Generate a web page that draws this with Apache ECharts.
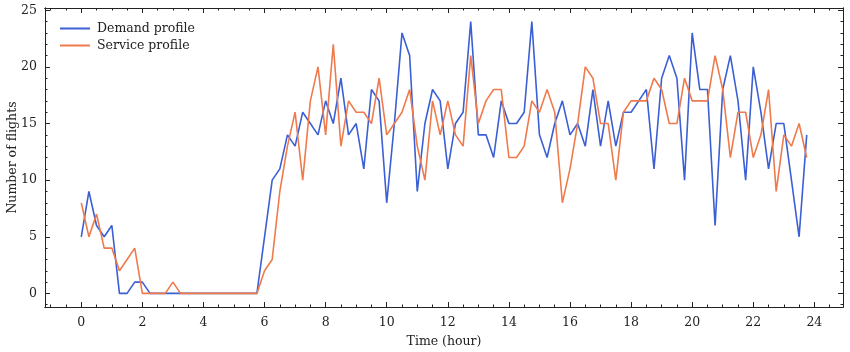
<!DOCTYPE html>
<html>
<head>
<meta charset="utf-8">
<script src="https://cdn.jsdelivr.net/npm/echarts@6/dist/echarts.min.js"></script>
<style>
  html, body { margin: 0; padding: 0; background: #fff; }
  #chart { width: 850px; height: 352px; }
</style>
</head>
<body>
<div id="chart"></div>
<script>
// one value every 15 minutes, 0:00 .. 23:45
const demand = [
  5, 9, 6, 5, 6, 0, 0, 1, 1, 0,
  0, 0, 0, 0, 0, 0, 0, 0, 0, 0, 0, 0, 0, 0,
  5, 10, 11, 14, 13, 16, 15, 14, 17, 15, 19, 14, 15, 11, 18, 17,
  8, 15, 23, 21, 9, 15, 18, 17, 11, 15, 16, 24, 14, 14, 12, 17,
  15, 15, 16, 24, 14, 12, 15, 17, 14, 15, 13, 18, 13, 17, 13, 16,
  16, 17, 18, 11, 19, 21, 19, 10, 23, 18, 18, 6, 18, 21, 17, 10,
  20, 16, 11, 15, 15, 10, 5, 14
];
const service = [
  8, 5, 7, 4, 4, 2, 3, 4, 0, 0,
  0, 0, 1, 0, 0, 0, 0, 0, 0, 0, 0, 0, 0, 0,
  2, 3, 9, 13, 16, 10, 17, 20, 14, 22, 13, 17, 16, 16, 15, 19,
  14, 15, 16, 18, 13, 10, 17, 14, 17, 14, 13, 21, 15, 17, 18, 18,
  12, 12, 13, 17, 16, 18, 16, 8, 11, 15, 20, 19, 15, 15, 10, 16,
  17, 17, 17, 19, 18, 15, 15, 19, 17, 17, 17, 21, 18, 12, 16, 16,
  12, 14, 18, 9, 14, 13, 15, 12
];
const xTicks = [0, 2, 4, 6, 8, 10, 12, 14, 16, 18, 20, 22, 24];
const yTicks = [0, 5, 10, 15, 20, 25];

const FONT = 'DejaVu Serif';
const xMin = -1.1875, xMax = 24.9375;
const yMin = -1.2, yMax = 25.2;

const times = demand.map((_, i) => i * 0.25);
const xMinor = [];
for (let v = -1; v <= 24.5; v += 0.5) if (xTicks.indexOf(v) < 0) xMinor.push(v);
const yMinor = [];
for (let v = -1; v <= 25; v += 1) if (yTicks.indexOf(v) < 0) yMinor.push(v);

function xAxis(pos, ticks, len, labels) {
  return {
    type: 'value', position: pos, min: xMin, max: xMax,
    name: labels ? 'Time (hour)' : '',
    nameLocation: 'middle', nameGap: 28, nameMoveOverlap: false,
    nameTextStyle: { fontFamily: FONT, fontSize: 12.5, color: '#222' },
    splitLine: { show: false },
    axisLine: { show: true, onZero: false, lineStyle: { color: '#222', width: 1 } },
    axisTick: { show: true, inside: true, length: len, customValues: ticks, lineStyle: { color: '#222' } },
    axisLabel: labels ? { show: true, customValues: ticks, margin: 9, fontFamily: FONT, fontSize: 12.5, color: '#222' } : { show: false }
  };
}
function yAxis(pos, ticks, len, labels) {
  return {
    type: 'value', position: pos, min: yMin, max: yMax,
    name: labels ? 'Number of flights' : '',
    nameLocation: 'middle', nameGap: 26, nameMoveOverlap: false,
    nameTextStyle: { fontFamily: FONT, fontSize: 12.5, color: '#222' },
    splitLine: { show: false },
    axisLine: { show: true, onZero: false, lineStyle: { color: '#222', width: 1 } },
    axisTick: { show: true, inside: true, length: len, customValues: ticks, lineStyle: { color: '#222' } },
    axisLabel: labels ? { show: true, customValues: ticks, margin: 8, fontFamily: FONT, fontSize: 12.5, color: '#222' } : { show: false }
  };
}

const chart = echarts.init(document.getElementById('chart'));
chart.setOption({
  animation: false,
  grid: { left: 45, right: 7, top: 8, bottom: 45, outerBoundsMode: 'none', containLabel: false },
  legend: {
    orient: 'vertical', left: 55, top: 17,
    icon: 'rect', itemWidth: 30, itemHeight: 2, itemGap: 4,
    textStyle: { fontFamily: FONT, fontSize: 12.5, color: '#222', padding: [0, 0, 0, 2] },
    data: ['Demand profile', 'Service profile']
  },
  xAxis: [
    xAxis('bottom', xTicks, 5, true),
    xAxis('bottom', xMinor, 2.5, false),
    xAxis('top', xTicks, 5, false),
    xAxis('top', xMinor, 2.5, false)
  ],
  yAxis: [
    yAxis('left', yTicks, 5, true),
    yAxis('left', yMinor, 2.5, false),
    yAxis('right', yTicks, 5, false),
    yAxis('right', yMinor, 2.5, false)
  ],
  series: [
    {
      name: 'Demand profile', type: 'line', symbol: 'none',
      lineStyle: { color: '#3b5fd4', width: 1.6 }, itemStyle: { color: '#3b5fd4' },
      data: times.map((t, i) => [t, demand[i]])
    },
    {
      name: 'Service profile', type: 'line', symbol: 'none',
      lineStyle: { color: '#ef7a4c', width: 1.6 }, itemStyle: { color: '#ef7a4c' },
      data: times.map((t, i) => [t, service[i]])
    }
  ]
});
</script>
</body>
</html>
